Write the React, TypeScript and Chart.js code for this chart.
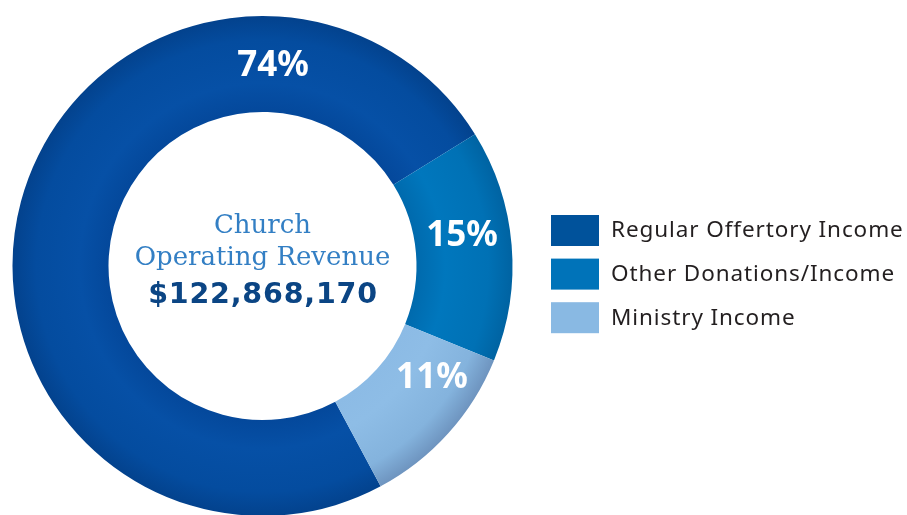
import React, { useEffect, useRef } from "react";
import { Chart, registerables } from "chart.js";

Chart.register(...registerables);

// ---- data ----
const categories = ["Regular Offertory Income", "Other Donations/Income", "Ministry Income"];
const shares = [74, 15, 11];
const legendColors = ["#00529b", "#0073b9", "#89b9e3"];
const labelAngles = [3, 81, 123]; // compass degrees where the percent labels sit
const centerTitle = ["Church", "Operating Revenue"];
const totalRevenue = 122868170;

const CUTOUT = 0.616;

const ringStops = [
  ["#04489b", "#0650a6", "#044c9f", "#03428d"],
  ["#006aad", "#0077bd", "#0071b5", "#0063a2"],
  ["#8cbbe5", "#8ebde6", "#84b3dd", "#6e94bf"],
];

export default function App() {
  const ref = useRef<HTMLCanvasElement>(null);

  useEffect(() => {
    const canvas = ref.current!;
    const W = 907;
    const H = 540;

    const overlay = {
      id: "overlay",
      afterDatasetsDraw(chart: any) {
        const ctx = chart.ctx as any;
        const meta = chart.getDatasetMeta(0);
        const arc0 = meta.data[0] as any;
        const cx = arc0.x;
        const cy = arc0.y;
        const rMid = (arc0.innerRadius + arc0.outerRadius) / 2;
        ctx.save();
        // percent labels
        ctx.fillStyle = "#ffffff";
        ctx.font = "700 35px 'Noto Sans'";
        ctx.textAlign = "center";
        ctx.textBaseline = "middle";
        shares.forEach((v, i) => {
          const t = ((labelAngles[i] - 90) * Math.PI) / 180;
          ctx.fillText(`${v}%`, cx + rMid * Math.cos(t), cy + rMid * Math.sin(t) + 2);
        });
        // center text
        ctx.textBaseline = "alphabetic";
        ctx.fillStyle = "#337fc4";
        ctx.font = "26px 'DejaVu Serif'";
        ctx.fillText(centerTitle[0], cx, cy - 33);
        ctx.fillText(centerTitle[1], cx, cy - 1);
        ctx.fillStyle = "#0b4584";
        ctx.font = "700 28.5px 'DejaVu Sans'";
        ctx.letterSpacing = "0.8px";
        ctx.fillText("$" + totalRevenue.toLocaleString("en-US"), cx + 0.5, cy + 37);
        // legend
        const lx = 551;
        const ly = 215;
        const pitch = 43.6;
        ctx.textAlign = "left";
        ctx.textBaseline = "middle";
        ctx.font = "22.5px 'Noto Sans'";
        ctx.letterSpacing = "0.9px";
        categories.forEach((c, i) => {
          const y = ly + i * pitch;
          ctx.fillStyle = legendColors[i];
          ctx.fillRect(lx, y, 48, 31);
          ctx.fillStyle = "#231f20";
          ctx.fillText(c, 611, y + 16);
        });
        ctx.restore();
      },
    };

    const chart = new Chart(canvas, {
      type: "doughnut",
      data: {
        labels: categories,
        datasets: [
          {
            data: shares,
            borderWidth: 0,
            backgroundColor: (c: any) => {
              const a = c.chart.chartArea;
              if (!a) return legendColors[c.dataIndex];
              const cx = (a.left + a.right) / 2;
              const cy = (a.top + a.bottom) / 2;
              const outer = Math.min(a.right - a.left, a.bottom - a.top) / 2;
              const inner = outer * CUTOUT;
              const g = c.chart.ctx.createRadialGradient(cx, cy, inner, cx, cy, outer);
              const s = ringStops[c.dataIndex];
              g.addColorStop(0, s[0]);
              g.addColorStop(0.3, s[1]);
              g.addColorStop(0.75, s[2]);
              g.addColorStop(1, s[3]);
              return g;
            },
          },
        ],
      },
      options: {
        responsive: false,
        animation: false,
        devicePixelRatio: 1,
        cutout: `${CUTOUT * 100}%`,
        rotation: 151.8,
        layout: { padding: { left: 12.5, right: W - 512.5, top: 16, bottom: H - 516 } },
        plugins: {
          legend: { display: false },
          tooltip: { enabled: false },
        },
        events: [],
      } as any,
      plugins: [overlay],
    });
    return () => chart.destroy();
  }, []);

  return (
    <canvas
      ref={ref}
      width={907}
      height={540}
      style={{ position: "fixed", left: 0, top: 0, width: 907, height: 540, background: "#fff" }}
    />
  );
}
